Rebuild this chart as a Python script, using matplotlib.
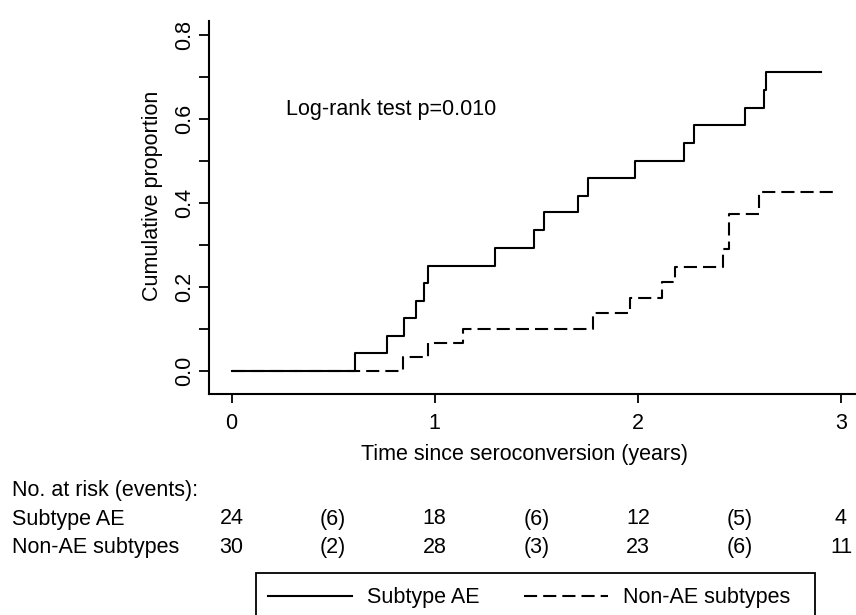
import matplotlib
matplotlib.use("Agg")
import matplotlib.pyplot as plt
from matplotlib.ticker import MultipleLocator, FixedLocator
from matplotlib.transforms import blended_transform_factory
from matplotlib.lines import Line2D
from matplotlib.patches import Rectangle

plt.rcParams['font.family'] = ['Liberation Sans', 'DejaVu Sans']

# Kaplan-Meier cumulative proportion
ae_times = [0, 0.609, 0.765, 0.849, 0.906, 0.946, 0.967, 1.299, 1.489, 1.539, 1.706,
            1.755, 1.985, 2.227, 2.276, 2.529, 2.621, 2.631, 2.901]
ae_values = [0, 0.042, 0.083, 0.125, 0.167, 0.208, 0.250, 0.292, 0.334, 0.377, 0.416,
             0.458, 0.500, 0.543, 0.585, 0.626, 0.669, 0.710, 0.710]

nonae_times = [0, 0.844, 0.967, 1.140, 1.780, 1.961, 2.120, 2.182, 2.417, 2.448, 2.598, 2.962]
nonae_values = [0, 0.033, 0.066, 0.100, 0.137, 0.174, 0.211, 0.248, 0.290, 0.374, 0.426, 0.426]

series_names = ["Subtype AE", "Non-AE subtypes"]

# Risk table
risk_positions = [0, 0.5, 1, 1.5, 2, 2.5, 3]
risk_ae = ["24", "(6)", "18", "(6)", "12", "(5)", "4"]
risk_nonae = ["30", "(2)", "28", "(3)", "23", "(6)", "11"]

x_ticks = [0, 1, 2, 3]
y_ticks = [0.0, 0.2, 0.4, 0.6, 0.8]
y_ticklabels = ["0.0", "0.2", "0.4", "0.6", "0.8"]

FS = 15.5
DASH = (0, (6.3, 2.9))

fig = plt.figure(figsize=(8.56, 6.15), dpi=100)
ax = fig.add_axes([0.2445, 0.3593, 0.7555, 0.607])

ax.step(nonae_times, nonae_values, where='post', color='black', lw=1.5,
        linestyle=DASH, zorder=2, label=series_names[1])
ax.step(ae_times, ae_values, where='post', color='black', lw=1.5,
        zorder=3, label=series_names[0])

ax.set_xlim(-0.110, 3.074)
ax.set_ylim(-0.0554, 0.833)

for s in ['top', 'right']:
    ax.spines[s].set_visible(False)
for s in ['left', 'bottom']:
    ax.spines[s].set_linewidth(1.5)

ax.xaxis.set_major_locator(FixedLocator(x_ticks))
ax.set_xticklabels([str(t) for t in x_ticks])
ax.yaxis.set_major_locator(FixedLocator(y_ticks))
ax.set_yticklabels(y_ticklabels)
ax.yaxis.set_minor_locator(MultipleLocator(0.1))

ax.tick_params(axis='x', which='major', direction='out', length=6.5, width=1.3,
               labelsize=FS, pad=7)
ax.tick_params(axis='y', which='both', direction='out', length=7.2, width=1.3,
               labelsize=FS, pad=3)
for lab in ax.get_yticklabels():
    lab.set_rotation(90)
    lab.set_va('center')

ax.set_xlabel("Time since seroconversion (years)", fontsize=FS)
ax.xaxis.set_label_coords(0.488, -0.134)
ax.set_ylabel("Cumulative proportion", fontsize=FS)
ax.yaxis.set_label_coords(-0.072, 0.53)

ax.text(286/856, 0.622, "Log-rank test p=0.010", fontsize=FS,
        transform=blended_transform_factory(fig.transFigure, ax.transData),
        ha='left', va='center')

# Risk table (baselines)
trans = blended_transform_factory(ax.transData, fig.transFigure)
row_header_y = 1 - 496/615
row_ae_y = 1 - 524.5/615
row_nonae_y = 1 - 553/615
fig.text(12/856, row_header_y, "No. at risk (events):", fontsize=FS, ha='left', va='baseline')
fig.text(12/856, row_ae_y, series_names[0], fontsize=FS, ha='left', va='baseline')
fig.text(12/856, row_nonae_y, series_names[1], fontsize=FS, ha='left', va='baseline')
for xpos, a, b in zip(risk_positions, risk_ae, risk_nonae):
    ax.text(xpos, row_ae_y, a, fontsize=FS, ha='center', va='baseline',
            transform=trans, clip_on=False)
    ax.text(xpos, row_nonae_y, b, fontsize=FS, ha='center', va='baseline',
            transform=trans, clip_on=False)

# Legend box (frame) and legend entries
fig.patches.append(Rectangle((256/856, 1 - 625/615), (815 - 256)/856, 52/615,
                             transform=fig.transFigure, fill=False,
                             edgecolor='black', linewidth=1.3))
handles = [Line2D([], [], color='black', lw=1.5),
           Line2D([], [], color='black', lw=1.5, linestyle=DASH)]
leg = fig.legend(handles, series_names, loc='center left',
                 bbox_to_anchor=(262/856, 1 - 598/615),
                 ncol=2, fontsize=FS, frameon=False,
                 handlelength=3.9, handletextpad=0.7, borderpad=0.3,
                 borderaxespad=0.0, columnspacing=2.05)

fig.savefig("out.png", dpi=100)
